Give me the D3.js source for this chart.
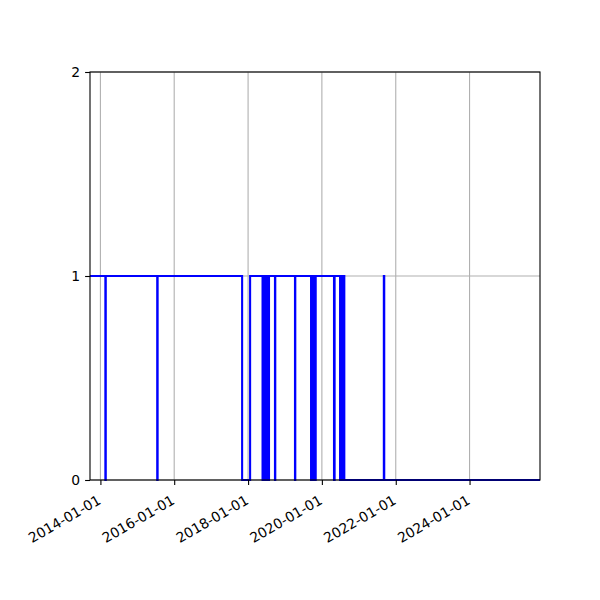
<!DOCTYPE html>
<html>
<head>
<meta charset="utf-8">
<script src="https://d3js.org/d3.v7.min.js"></script>
<style>
  body { margin: 0; background: #fff; }
  .tick text { font-family: "DejaVu Sans", sans-serif; font-size: 13.9px; fill: #000; }
</style>
</head>
<body>
<div class="chart"></div>
<script>
// Change points of the series: the value holds from each date until the next one
var changeDates = [
  "2013-09-20", "2014-02-19", "2014-02-23", "2015-07-17", "2015-07-21",
  "2017-11-03", "2018-01-21",
  "2018-05-24", "2018-05-28", "2018-06-03", "2018-06-07", "2018-06-13", "2018-06-17",
  "2018-06-23", "2018-06-27", "2018-07-03", "2018-07-07", "2018-07-12", "2018-07-14",
  "2018-07-25", "2018-07-27",
  "2018-09-24", "2018-09-27", "2019-04-10", "2019-04-13",
  "2019-09-16", "2019-09-20", "2019-09-26", "2019-09-30", "2019-10-06", "2019-10-10",
  "2019-10-16", "2019-10-20", "2019-10-28", "2019-11-01",
  "2020-04-30", "2020-05-06",
  "2020-06-29", "2020-07-03", "2020-07-09", "2020-07-13", "2020-07-19", "2020-07-23",
  "2020-07-29", "2020-08-02", "2020-08-10",
  "2021-09-05", "2021-09-09", "2025-11-28"
];
var changeValues = [
  1, 0, 1, 0, 1,
  0, 1,
  0, 1, 0, 1, 0, 1,
  0, 1, 0, 1, 0, 1,
  0, 1,
  0, 1, 0, 1,
  0, 1, 0, 1, 0, 1,
  0, 1, 0, 1,
  0, 1,
  0, 1, 0, 1, 0, 1,
  0, 1, 0,
  1, 0, 0
];

// Axis limits and tick labels
var xStart = "2013-09-20";
var xEnd = "2025-11-28";
var xTickLabels = ["2014-01-01", "2016-01-01", "2018-01-01", "2020-01-01", "2022-01-01", "2024-01-01"];
var yTicks = [0, 1, 2];

var parseDate = d3.timeParse("%Y-%m-%d");

var svgWidth = 600;
var svgHeight = 600;

var margin = { top: 72, right: 60, bottom: 120, left: 90 };
var width = svgWidth - margin.left - margin.right;
var height = svgHeight - margin.top - margin.bottom;

var svg = d3.select(".chart")
  .append("svg")
  .attr("width", svgWidth)
  .attr("height", svgHeight);

var chartGroup = svg.append("g")
  .attr("transform", `translate(${margin.left}, ${margin.top})`);

var series = changeDates.map(function (d, i) {
  return { date: parseDate(d), value: changeValues[i] };
});

// Scales
var xTimeScale = d3.scaleUtc()
  .domain([parseDate(xStart), parseDate(xEnd)])
  .range([0, width]);

var yLinearScale = d3.scaleLinear()
  .domain([0, 2])
  .range([height, 0]);

var xTickDates = xTickLabels.map(parseDate);

// Grid lines
chartGroup.append("g")
  .selectAll("line")
  .data(xTickDates)
  .enter()
  .append("line")
  .attr("x1", d => xTimeScale(d))
  .attr("x2", d => xTimeScale(d))
  .attr("y1", 0)
  .attr("y2", height)
  .attr("stroke", "#b0b0b0")
  .attr("stroke-width", 1.1);

chartGroup.append("g")
  .selectAll("line")
  .data(yTicks)
  .enter()
  .append("line")
  .attr("x1", 0)
  .attr("x2", width)
  .attr("y1", d => yLinearScale(d))
  .attr("y2", d => yLinearScale(d))
  .attr("stroke", "#b0b0b0")
  .attr("stroke-width", 1.1);

// Step line
var stepLine = d3.line()
  .x(d => xTimeScale(d.date))
  .y(d => yLinearScale(d.value))
  .curve(d3.curveStepAfter);

chartGroup.append("path")
  .datum(series)
  .attr("fill", "none")
  .attr("stroke", "#0000ff")
  .attr("stroke-width", 2.08)
  .attr("d", stepLine);

// Axes
var bottomAxis = d3.axisBottom(xTimeScale)
  .tickValues(xTickDates)
  .tickFormat(d3.utcFormat("%Y-%m-%d"))
  .tickSize(4.9)
  .tickPadding(4.9);

var leftAxis = d3.axisLeft(yLinearScale)
  .tickValues(yTicks)
  .tickFormat(d3.format("d"))
  .tickSize(4.9)
  .tickPadding(4.9);

var xAxisGroup = chartGroup.append("g")
  .attr("transform", `translate(0, ${height})`)
  .call(bottomAxis);

// rotated labels, right end tucked under the tick
xAxisGroup.selectAll(".tick text")
  .attr("text-anchor", "end")
  .attr("y", 0)
  .attr("dy", 0)
  .attr("transform", "translate(1, 23) rotate(-30)");

chartGroup.append("g")
  .call(leftAxis);

chartGroup.selectAll(".domain").remove();
chartGroup.selectAll(".tick line").attr("stroke", "#000").attr("stroke-width", 1.1);

// Frame
chartGroup.append("rect")
  .attr("width", width)
  .attr("height", height)
  .attr("fill", "none")
  .attr("stroke", "#000")
  .attr("stroke-width", 1.1);
</script>
</body>
</html>
